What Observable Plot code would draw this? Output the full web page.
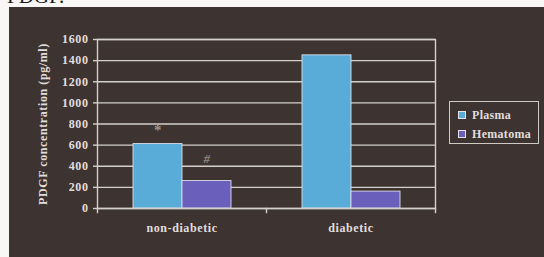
<!DOCTYPE html>
<html><head><meta charset="utf-8">
<script src="https://cdn.jsdelivr.net/npm/d3@7"></script>
<script src="https://cdn.jsdelivr.net/npm/@observablehq/plot@0.6"></script>
<style>
html,body{margin:0;padding:0;background:#f8f7f5;width:544px;height:257px;overflow:hidden;position:relative;font-family:"Liberation Serif","Times New Roman",serif;}
#hdr{position:absolute;left:7px;top:-15px;font-size:21px;color:#1d1a19;line-height:23px;white-space:nowrap;}
#box{position:absolute;left:9px;top:7px;width:535px;height:250px;background:#3d3331;}
#box svg{position:absolute;left:0;top:0;}
#box svg text{letter-spacing:0.6px;font-weight:bold;}
#legend{position:absolute;left:440px;top:94px;width:88px;height:41px;border:1px solid #cfc9c6;}
.item{position:absolute;left:8px;font-size:12px;letter-spacing:0.3px;font-weight:bold;color:#e2dedb;line-height:14px;white-space:nowrap;}
.sw{display:inline-block;width:6px;height:6px;border:1px solid #e4e4ea;margin-right:6px;vertical-align:middle;position:relative;top:-1px;}
</style></head><body>
<div id="hdr">PDGF.</div>
<div id="box"><div id="legend"></div></div>
<script>
const categories = ["non-diabetic", "diabetic"];
const series = ["Plasma", "Hematoma"];
const plasma = [610, 1450];
const hematoma = [260, 160];
const yTicks = [0, 200, 400, 600, 800, 1000, 1200, 1400, 1600];
const yLabel = "PDGF concentration (pg/ml)";
const colors = ["#5aacd8", "#6a60bc"];
const annCategory = ["non-diabetic", "non-diabetic"];
const annSeries = ["Plasma", "Hematoma"];
const annText = ["*", "#"];

const rows = categories.flatMap((c, i) => [
  {category: c, series: series[0], value: plasma[i]},
  {category: c, series: series[1], value: hematoma[i]}
]);
const ann = annText.map((t, i) => ({
  category: annCategory[i], series: annSeries[i], text: t,
  value: rows.find(r => r.category === annCategory[i] && r.series === annSeries[i]).value
}));

const lineColor = "#d4d0cd";
const textColor = "#e2dedb";

const chart = Plot.plot({
  width: 535, height: 250,
  marginLeft: 88, marginRight: 109, marginTop: 32, marginBottom: 49,
  style: {background: "transparent", fontFamily: "'Liberation Serif', 'Times New Roman', serif", color: textColor},
  fx: {domain: categories, padding: 0, axis: null},
  x: {domain: series, paddingInner: 0, paddingOuter: 0.724, axis: null},
  y: {domain: [0, 1600], axis: null},
  color: {domain: series, range: colors},
  marks: [
    Plot.gridY(yTicks, {stroke: lineColor, strokeOpacity: 1, strokeWidth: 1.4}),
    Plot.barY(rows, {fx: "category", x: "series", y: "value", fill: "series", stroke: "#dcdce6", strokeWidth: 0.9}),
    Plot.text(ann.filter(d => d.text === "*"), {fx: "category", x: "series", y: "value", text: "text", dy: -14, fontSize: 15, fill: "#9c9590"}),
    Plot.text(ann.filter(d => d.text === "#"), {fx: "category", x: "series", y: "value", text: "text", dy: -22, fontSize: 13, fontStyle: "italic", fill: "#8d8682"}),
    Plot.frame({facet: "super", stroke: lineColor, strokeWidth: 1.4}),
    Plot.frame({anchor: "left", insetTop: 169, insetBottom: -4, stroke: lineColor, strokeWidth: 1.4}),
    Plot.frame({facet: "super", anchor: "right", insetTop: 169, insetBottom: -4, stroke: lineColor, strokeWidth: 1.4}),
    Plot.axisY({ticks: yTicks, tickSize: 4, tickPadding: 5, tickFormat: d => String(d), stroke: lineColor, strokeWidth: 1.4,
      label: yLabel, labelAnchor: "center", labelArrow: "none", labelOffset: 59, fontSize: 12, fill: textColor}),
    Plot.axisFx({anchor: "bottom", tickSize: 0, tickPadding: 15, label: null, fontSize: 12, fill: textColor})
  ]
});
document.getElementById("box").prepend(chart);

const legend = document.getElementById("legend");
series.forEach((s, i) => {
  const item = document.createElement("div");
  item.className = "item";
  item.style.top = (6 + i * 19) + "px";
  const sw = document.createElement("span");
  sw.className = "sw";
  sw.style.background = colors[i];
  item.appendChild(sw);
  item.appendChild(document.createTextNode(s));
  legend.appendChild(item);
});
</script>
</body></html>
